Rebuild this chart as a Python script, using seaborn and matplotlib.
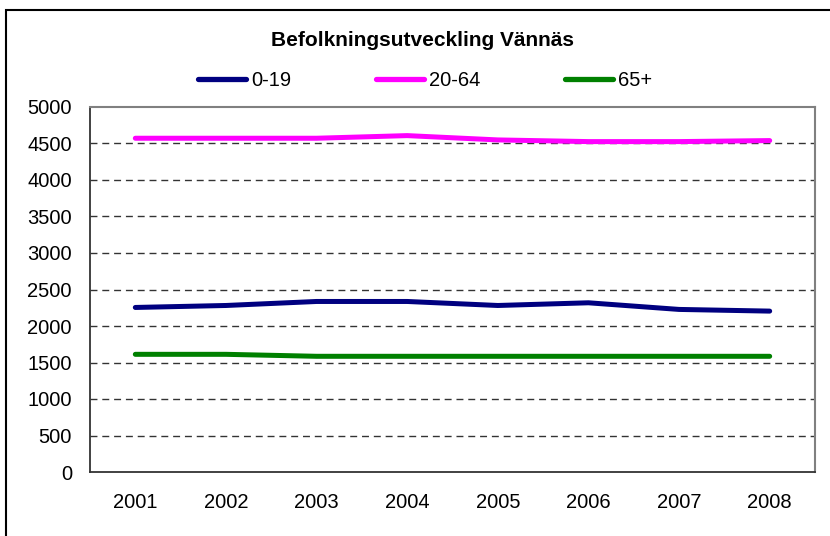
import pandas as pd
import seaborn as sns
import matplotlib
matplotlib.use("Agg")
import matplotlib.pyplot as plt
from matplotlib.patches import Rectangle

# Data
years = ["2001", "2002", "2003", "2004", "2005", "2006", "2007", "2008"]
age_0_19 = [2254, 2281, 2336, 2336, 2281, 2318, 2227, 2204]
age_20_64 = [4572, 4572, 4572, 4608, 4549, 4526, 4526, 4540]
age_65 = [1612, 1612, 1585, 1585, 1585, 1585, 1585, 1585]
groups = ["0-19", "20-64", "65+"]
colors = ["#000080", "#FF00FF", "#008000"]

df = pd.DataFrame({"year": years * 3,
                   "pos": list(range(len(years))) * 3,
                   "value": age_0_19 + age_20_64 + age_65,
                   "group": [g for g in groups for _ in years]})

sns.set_style("white")
plt.rcParams["font.family"] = ["Liberation Sans", "DejaVu Sans"]
plt.rcParams["text.color"] = "black"

W, H = 830, 536
fig = plt.figure(figsize=(W / 100, H / 100), dpi=100)
ax = fig.add_axes([90 / W, (H - 472) / H, 725 / W, 365 / H])

sns.lineplot(data=df, x="pos", y="value", hue="group", palette=colors,
             linewidth=3.6, solid_capstyle="round", legend=False, ax=ax)

ax.set_xlim(-0.5, len(years) - 0.5)
ax.set_ylim(0, 5000)
ax.set_yticks(range(0, 5001, 500))
ax.set_xticks([i + 0.5 for i in range(-1, len(years))])
ax.set_xticklabels([])
ax.set_xticks(range(len(years)), minor=True)
ax.set_xticklabels(years, minor=True)
ax.tick_params(axis="x", which="major", direction="out", length=5, width=1, color="#333333")
ax.tick_params(axis="x", which="minor", length=0, pad=15, labelsize=14.5, labelcolor="black")
ax.tick_params(axis="y", direction="out", length=5, width=1, color="#333333",
               labelsize=14.5, pad=8, labelcolor="black")
ax.set_xlabel("")
ax.set_ylabel("")

for v in range(500, 5000, 500):
    ax.axhline(v, color="#333333", lw=1, ls=(0, (5, 3.5)), zorder=0)

for s in ["top", "right"]:
    ax.spines[s].set_color("#808080")
    ax.spines[s].set_linewidth(1.5)
for s in ["left", "bottom"]:
    ax.spines[s].set_color("#333333")
    ax.spines[s].set_linewidth(1.3)

fig.text(422 / W, 1 - 40 / H, "Befolkningsutveckling Vännäs", ha="center", va="center",
         fontsize=15, fontweight="bold", color="black")

handles = [plt.Line2D([], [], color=c, lw=3.8, solid_capstyle="round") for c in colors]
fig.legend(handles, groups, loc="center", bbox_to_anchor=(425 / W, 1 - 81 / H), ncol=3,
           frameon=False, fontsize=14.5, handlelength=2.4, handletextpad=0.25,
           columnspacing=4.2, borderpad=0, labelcolor="black")

# outer chart border, only top and left edges fall inside the image
fig.patches.append(Rectangle((6 / W, -0.2), 1.2, 1.2 - 10 / H,
                             transform=fig.transFigure, fill=False,
                             edgecolor="black", lw=1.5))

fig.savefig("out.png", dpi=100)
